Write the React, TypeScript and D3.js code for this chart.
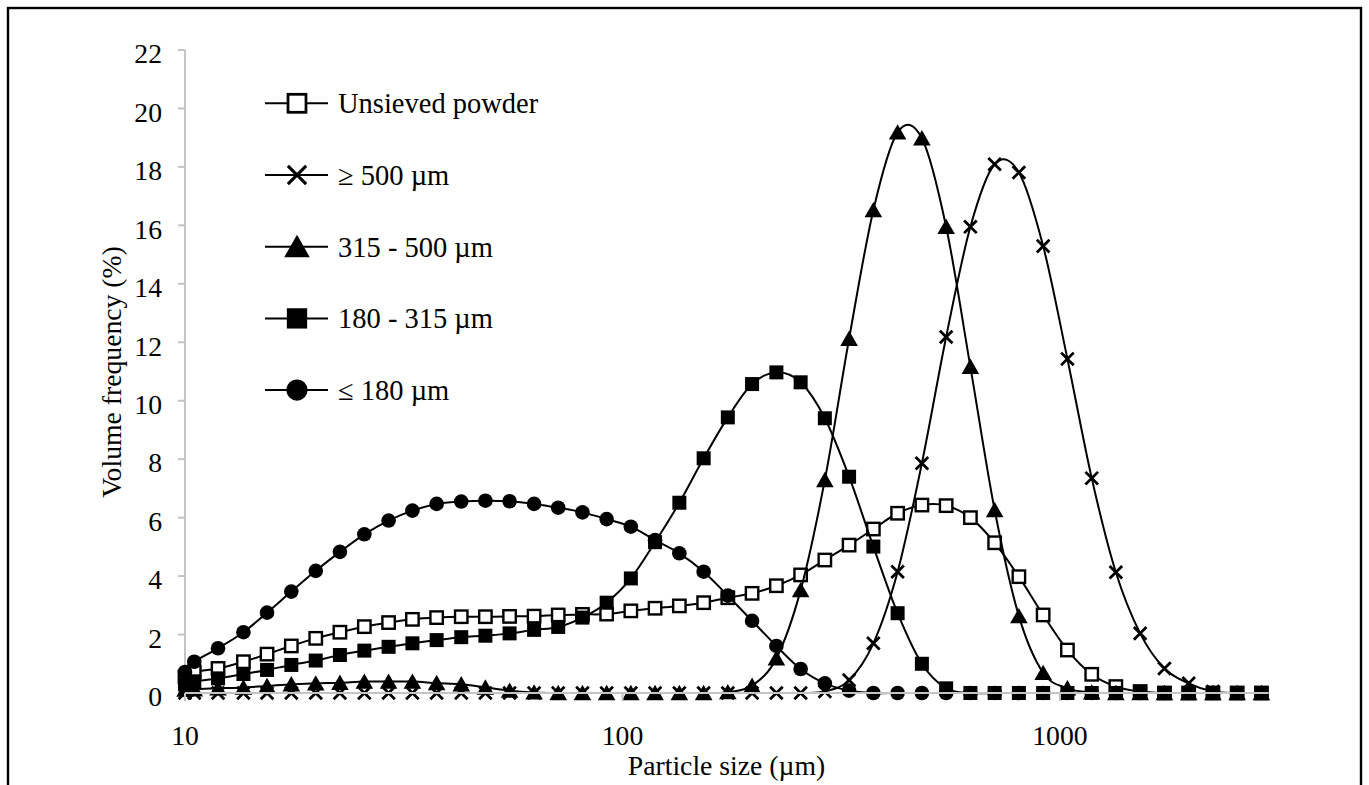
import React from "react";
import * as d3 from "d3";

// Particle sizes (µm) – class centres
const sizes = [10, 10.5, 11.9, 13.6, 15.4, 17.5, 19.9, 22.6, 25.7, 29.2, 33.1, 37.6, 42.8, 48.6, 55.2, 62.8, 71.3, 81.0, 92.0, 104.5, 118.7, 134.9, 153.3, 174.1, 197.8, 224.8, 255.4, 290.1, 329.6, 374.5, 425.5, 483.5, 549.3, 624.1, 709.1, 805.6, 915.3, 1040, 1182, 1342, 1525, 1733, 1969, 2237, 2541, 2887];

const unsieved = [0.55, 0.72, 0.84, 1.07, 1.33, 1.61, 1.87, 2.08, 2.27, 2.41, 2.52, 2.58, 2.61, 2.61, 2.62, 2.63, 2.67, 2.69, 2.70, 2.81, 2.90, 2.98, 3.09, 3.26, 3.41, 3.67, 4.04, 4.55, 5.06, 5.61, 6.15, 6.43, 6.41, 6.00, 5.14, 3.98, 2.67, 1.47, 0.64, 0.22, 0.05, 0, 0, 0, 0, 0];
const over500 = [0, 0, 0, 0, 0, 0, 0, 0, 0, 0, 0, 0, 0, 0, 0, 0, 0, 0, 0, 0, 0, 0, 0, 0, 0, 0, 0, 0.05, 0.44, 1.70, 4.15, 7.86, 12.18, 15.95, 18.09, 17.81, 15.29, 11.43, 7.35, 4.13, 2.04, 0.84, 0.33, 0.05, 0, 0];
const s315to500 = [0.12, 0.13, 0.16, 0.19, 0.24, 0.30, 0.33, 0.35, 0.39, 0.39, 0.39, 0.34, 0.30, 0.19, 0.08, 0.02, 0, 0, 0, 0, 0, 0, 0, 0.03, 0.25, 1.19, 3.52, 7.29, 12.12, 16.52, 19.18, 18.98, 15.95, 11.16, 6.26, 2.63, 0.69, 0.16, 0.02, 0, 0, 0, 0, 0, 0, 0];
const s180to315 = [0.30, 0.40, 0.50, 0.65, 0.79, 0.96, 1.11, 1.30, 1.45, 1.58, 1.70, 1.81, 1.91, 1.96, 2.04, 2.16, 2.26, 2.58, 3.09, 3.92, 5.16, 6.51, 8.03, 9.43, 10.57, 10.97, 10.63, 9.40, 7.40, 5.01, 2.73, 1.00, 0.16, 0, 0, 0, 0, 0, 0, 0, 0, 0, 0, 0, 0, 0];
const under180 = [0.72, 1.07, 1.53, 2.08, 2.75, 3.47, 4.18, 4.83, 5.43, 5.90, 6.24, 6.47, 6.55, 6.58, 6.56, 6.47, 6.34, 6.18, 5.95, 5.69, 5.23, 4.78, 4.15, 3.33, 2.47, 1.61, 0.82, 0.33, 0.08, 0, 0, 0, 0, 0, 0, 0, 0, 0, 0, 0, 0, 0, 0, 0, 0, 0];

const yTicks = [0, 2, 4, 6, 8, 10, 12, 14, 16, 18, 20, 22];
const xTicks = [10, 100, 1000];
const legendLabels = ["Unsieved powder", "\u2265 500 \u00b5m", "315 - 500 \u00b5m", "180 - 315 \u00b5m", "\u2264 180 \u00b5m"];
const legendMarkers = ["openSquare", "cross", "triangle", "square", "circle"];
const xTitle = "Particle size (\u00b5m)";
const yTitle = "Volume frequency (%)";

const FONT = '"Liberation Serif", "Times New Roman", serif';

function Marker({ type, cx, cy, s = 1 }: { type: string; cx: number; cy: number; s?: number }) {
  switch (type) {
    case "openSquare": {
      const h = 6.2 * s;
      return <rect x={cx - h} y={cy - h} width={2 * h} height={2 * h} fill="#fff" stroke="#000" strokeWidth={2.4 * Math.min(s, 1.15)} />;
    }
    case "square": {
      const h = 7 * s;
      return <rect x={cx - h} y={cy - h} width={2 * h} height={2 * h} fill="#000" />;
    }
    case "circle":
      return <circle cx={cx} cy={cy} r={7.3 * s} fill="#000" />;
    case "triangle": {
      const w = 8.8 * s, t = 8.2 * s, b = 7.2 * s;
      return <path d={`M${cx},${cy - t}L${cx + w},${cy + b}L${cx - w},${cy + b}Z`} fill="#000" />;
    }
    case "cross": {
      const h = 6.3 * s;
      return (
        <path d={`M${cx - h},${cy - h}L${cx + h},${cy + h}M${cx - h},${cy + h}L${cx + h},${cy - h}`} stroke="#000" strokeWidth={2.8 * Math.min(s, 1.1)} fill="none" />
      );
    }
  }
  return null;
}

export default function App() {
  const x = d3.scaleLog().domain([10, 3000]).range([185, 1268.7]);
  const y = d3.scaleLinear().domain([0, 22]).range([693, 50]);
  const line = d3
    .line<number>()
    .x((_, i) => x(sizes[i]))
    .y((d) => y(d))
    .curve(d3.curveCatmullRom.alpha(0));

  // drawing order
  const drawSeries = [
    { data: unsieved, marker: "openSquare" },
    { data: over500, marker: "cross" },
    { data: under180, marker: "circle" },
    { data: s315to500, marker: "triangle" },
    { data: s180to315, marker: "square" },
  ];

  const legendY0 = 103.3;
  const legendStep = 71.7;

  return (
    <svg
      width={1369}
      height={785}
      style={{ position: "absolute", left: 0, top: 0, display: "block", background: "#fff" }}
      fontFamily={FONT}
    >
      <rect x={0} y={0} width={1369} height={785} fill="#fff" />
      {/* outer border */}
      <rect x={8} y={8} width={1353} height={800} fill="none" stroke="#000" strokeWidth={2.4} />

      {/* y axis */}
      <line x1={185} x2={185} y1={y(22)} y2={y(0)} stroke="#c4c4c4" strokeWidth={2} />
      {yTicks.map((t) => (
        <g key={t}>
          <line x1={178} x2={185} y1={y(t)} y2={y(t)} stroke="#c4c4c4" strokeWidth={2} />
          <text x={162} y={y(t) + 13.3} textAnchor="end" fontSize={27.7} fill="#000">
            {t}
          </text>
        </g>
      ))}

      {/* series */}
      {drawSeries.map((s, si) => (
        <g key={si}>
          <path d={line(s.data) || ""} fill="none" stroke="#000" strokeWidth={2} />
          {s.data.map((v, i) => (
            <Marker key={i} type={s.marker} cx={x(sizes[i])} cy={y(v)} />
          ))}
        </g>
      ))}

      {/* x axis (drawn over markers) */}
      <line x1={185} x2={1268.7} y1={693} y2={693} stroke="#c4c4c4" strokeWidth={2} />
      {xTicks.map((t) => (
        <g key={t}>
          <line x1={x(t)} x2={x(t)} y1={693} y2={701} stroke="#c4c4c4" strokeWidth={2} />
          <text x={x(t)} y={745} textAnchor="middle" fontSize={27.7} fill="#000">
            {t}
          </text>
        </g>
      ))}

      {/* axis titles */}
      <text x={726.5} y={775} textAnchor="middle" fontSize={27.7} fill="#000">
        {xTitle}
      </text>
      <text
        transform={`translate(121,372) rotate(-90)`}
        textAnchor="middle"
        fontSize={27.7}
        fill="#000"
      >
        {yTitle}
      </text>

      {/* legend */}
      {legendLabels.map((lab, i) => {
        const ly = legendY0 + i * legendStep;
        return (
          <g key={lab}>
            <line x1={265} x2={328} y1={ly} y2={ly} stroke="#000" strokeWidth={2} />
            <Marker type={legendMarkers[i]} cx={297} cy={ly} s={1.45} />
            <text x={338} y={ly + 10} fontSize={28.5} fill="#000">
              {lab}
            </text>
          </g>
        );
      })}
    </svg>
  );
}
